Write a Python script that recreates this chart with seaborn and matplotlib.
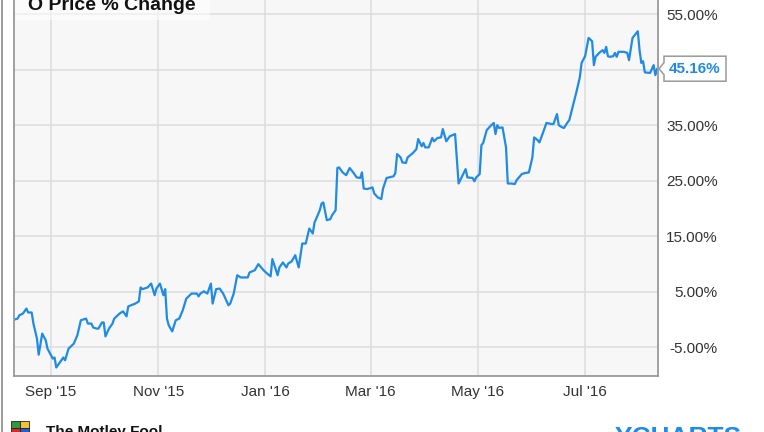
import pandas as pd
import numpy as np
import matplotlib
matplotlib.use("Agg")
import matplotlib.pyplot as plt
import matplotlib.dates as mdates
from matplotlib.patches import Polygon, Rectangle
from matplotlib.lines import Line2D
from matplotlib.transforms import IdentityTransform
import seaborn as sns

W, H = 764, 432

# data (days counted from 2015-09-01, % change)
start_date = "2015-09-01"
day_offsets = [
    -21, -19, -18, -16, -14, -13, -11, -10, -8, -7,
    -5, -3, -2, 1, 2, 3, 5, 7, 8, 10,
    12, 13, 15, 17, 20, 21, 23, 24, 26, 27,
    29, 30, 31, 33, 35, 36, 39, 41, 43, 44,
    48, 50, 51, 52, 55, 57, 59, 60, 62, 64,
    65, 66, 67, 69, 71, 73, 75, 77, 80, 83,
    84, 85, 87, 89, 91, 92, 94, 96, 98, 101,
    102, 104, 106, 108, 112, 113, 116, 118, 121, 123,
    125, 126, 129, 130, 132, 134, 135, 137, 139, 141,
    143, 145, 147, 149, 150, 151, 153, 154, 155, 157,
    159, 160, 162, 163, 164, 166, 168, 170, 172, 174,
    176, 177, 178, 180, 183, 184, 186, 188, 189, 191,
    195, 196, 197, 199, 200, 202, 203, 206, 208, 209,
    211, 212, 213, 215, 217, 218, 220, 222, 223, 225,
    227, 230, 232, 234, 236, 237, 240, 241, 242, 244,
    245, 246, 248, 250, 252, 253, 254, 255, 257, 259,
    260, 262, 264, 265, 268, 270, 272, 274, 275, 277,
    278, 280, 282, 285, 286, 288, 289, 291, 292, 294,
    295, 297, 298, 299, 301, 302, 304, 306, 308, 309,
    310, 312, 314, 315, 316, 317, 318, 320, 321, 322,
    323, 326, 328, 329, 331, 334, 335, 336, 337, 338,
    341, 343, 344, 345,
]
pct_change = [
    0.0, 0.2, 0.8, 1.1, 2.0, 1.3, 1.3, -0.7, -3.4, -6.3,
    -2.5, -3.7, -5.2, -7.0, -6.8, -8.6, -7.7, -6.8, -7.3, -5.2,
    -4.6, -4.3, -2.8, -0.1, 0.2, -0.7, -0.7, -1.4, -1.6, -1.6,
    -0.5, -0.5, -3.0, -1.6, -0.7, 0.2, 1.1, 1.5, 0.6, 2.4,
    2.9, 3.3, 5.8, 5.5, 5.8, 6.5, 4.4, 5.6, 6.5, 4.4,
    5.5, 0.2, -1.0, -2.1, -0.1, 0.2, 1.7, 3.8, 4.7, 4.7,
    4.2, 4.7, 5.1, 4.7, 6.5, 2.9, 5.5, 5.6, 4.7, 2.6,
    2.9, 4.7, 8.0, 7.6, 7.6, 8.5, 8.9, 10.0, 8.9, 8.3,
    7.8, 10.9, 8.0, 9.4, 10.3, 9.4, 10.1, 10.5, 11.6, 9.4,
    13.7, 13.7, 16.4, 15.5, 17.5, 18.2, 19.7, 20.9, 21.1, 17.9,
    18.1, 18.8, 19.7, 27.3, 27.4, 26.5, 26.0, 27.3, 26.5, 25.6,
    25.5, 26.5, 23.6, 23.5, 23.8, 22.7, 22.0, 21.7, 23.6, 25.5,
    25.8, 26.4, 29.8, 29.2, 28.3, 28.2, 29.2, 30.0, 30.7, 32.5,
    31.2, 31.8, 31.0, 31.0, 32.7, 32.1, 32.7, 32.8, 34.3, 32.1,
    33.0, 33.4, 24.5, 25.8, 27.1, 25.6, 25.5, 24.9, 25.6, 26.2,
    31.4, 31.8, 34.1, 34.8, 35.4, 33.4, 35.0, 34.5, 34.6, 31.0,
    24.5, 24.5, 24.4, 25.1, 26.2, 26.4, 26.5, 29.2, 32.8, 32.3,
    31.9, 33.6, 35.4, 35.2, 35.2, 37.0, 35.0, 34.6, 34.5, 35.5,
    35.9, 38.4, 39.7, 40.9, 43.6, 46.2, 47.4, 50.7, 50.1, 45.8,
    47.3, 48.0, 48.5, 48.0, 49.1, 47.4, 47.3, 47.4, 48.0, 47.3,
    48.2, 48.2, 48.0, 46.7, 50.7, 51.9, 48.5, 46.2, 46.5, 44.5,
    44.4, 45.8, 44.0, 45.16,
]
assert len(day_offsets) == len(pct_change)

tick_dates = ["2015-09-01", "2015-11-01", "2016-01-01", "2016-03-01", "2016-05-01", "2016-07-01"]
tick_labels = ["Sep '15", "Nov '15", "Jan '16", "Mar '16", "May '16", "Jul '16"]
y_ticks = [-5, 5, 15, 25, 35, 45, 55]
# the 45% label sits under the last-value callout in the original
y_labels = ["-5.00%", "5.00%", "15.00%", "25.00%", "35.00%", "", "55.00%"]

title = "O Price % Change"
last_label = "45.16%"

LINE = "#1f8be6"
TXT = "#333333"

sns.set_theme(style="whitegrid")
plt.rcParams['font.family'] = ['Liberation Sans', 'DejaVu Sans']

base = pd.Timestamp(start_date)
df = pd.DataFrame({
    "date": base + pd.to_timedelta(day_offsets, unit="D"),
    "pct": pct_change,
})

fig = plt.figure(figsize=(W / 100, H / 100), dpi=100)
fig.patch.set_facecolor("white")
ax = fig.add_axes([14 / W, 1 - 376 / H, (658 - 14) / W, 376 / H])
ax.set_facecolor("#f7f7f7")

sns.lineplot(data=df, x="date", y="pct", ax=ax, color=LINE, linewidth=1.6)

ax.set_xlim(base - pd.Timedelta(days=21.06), base + pd.Timedelta(days=345.5))
ax.set_ylim(-10.13, 57.52)

ax.grid(True, color="#dcdcdc", linewidth=1.1)
ax.set_axisbelow(True)
for side in ["left", "bottom", "right"]:
    ax.spines[side].set_visible(True)
    ax.spines[side].set_color("#999999")
    ax.spines[side].set_linewidth(1.3)
ax.spines["top"].set_visible(False)

ax.set_xticks(pd.to_datetime(tick_dates))
ax.set_xticklabels(tick_labels)
ax.tick_params(axis="x", length=0, pad=6.5, labelsize=11, labelcolor=TXT)

ax.yaxis.tick_right()
ax.set_yticks(y_ticks)
ax.set_yticklabels(y_labels)
ax.tick_params(axis="y", length=0, pad=43, labelsize=11, labelcolor=TXT)
for t in ax.get_yticklabels():
    t.set_horizontalalignment("right")
ax.set_xlabel("")
ax.set_ylabel("")

# last value callout
lx, ly = ax.transData.transform((mdates.date2num(df["date"].iloc[-1]), pct_change[-1]))
tip = ax.bbox.x1 + 1
pts = [(tip, ly), (tip + 5, ly + 6), (tip + 5, ly + 12.5), (tip + 67, ly + 12.5),
       (tip + 67, ly - 12.5), (tip + 5, ly - 12.5), (tip + 5, ly - 6)]
fig.add_artist(Polygon(pts, closed=True, facecolor="white", edgecolor="#9a9a9a",
                       linewidth=1.1, transform=IdentityTransform(), clip_on=False))
fig.text((tip + 36) / W, ly / H, last_label, ha="center", va="center",
         fontsize=11, fontweight="bold", color=LINE)

# title with faint box
fig.add_artist(Rectangle((15 / W, 1 - 20 / H), 195 / W, 20 / H, transform=fig.transFigure,
                         facecolor="white", alpha=0.55, edgecolor="none"))
fig.text(28 / W, 1 - 10 / H, title, fontsize=14, fontweight="bold",
         va="baseline", color="#111111")

# outer left border
fig.add_artist(Line2D([1.5 / W, 1.5 / W], [0, 1], color="#8a8a8a", linewidth=1.2,
                      transform=fig.transFigure))

# footer: logo + brands (cut off at bottom)
logo_cols = ["#2e9a3e", "#f2c230", "#d62b2b", "#2a5bd7"]
for i, c in enumerate(logo_cols):
    fig.add_artist(Rectangle(((11 + (i % 2) * 9) / W, 1 - (421 + (i // 2) * 7) / H - 7 / H),
                             9 / W, 7 / H, transform=fig.transFigure,
                             facecolor=c, edgecolor="#222222", linewidth=0.6))
fig.text(46 / W, 1 - 425 / H, "The Motley Fool", fontsize=11, fontweight="bold",
         va="top", color="#111111")
fig.text(615 / W, 1 - 426 / H, "YCHARTS", fontsize=19, fontweight="bold",
         va="top", color=LINE)

fig.savefig("out.png", dpi=100)
